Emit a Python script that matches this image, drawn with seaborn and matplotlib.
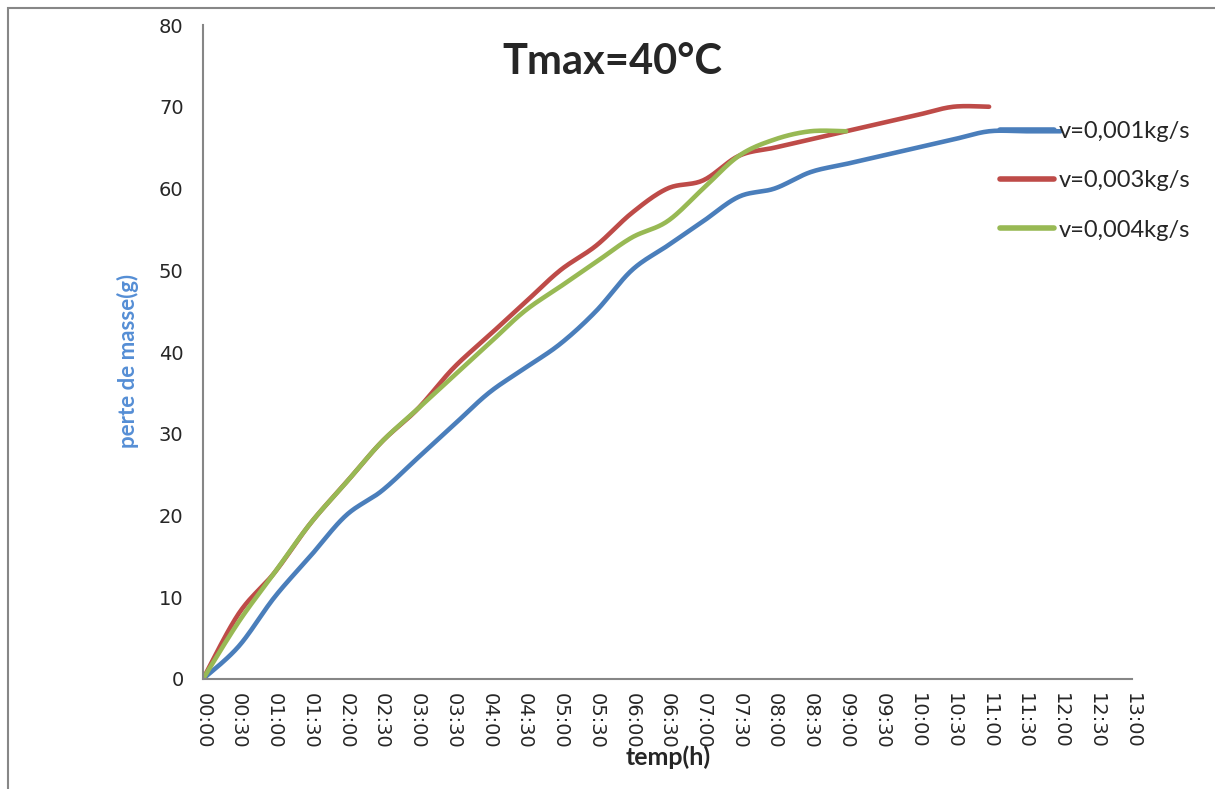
import numpy as np
import pandas as pd
import matplotlib
matplotlib.use("Agg")
import matplotlib.pyplot as plt
import seaborn as sns
from matplotlib.patches import Rectangle

# ---- data ----
time_labels = ["00:00", "00:30", "01:00", "01:30", "02:00", "02:30", "03:00", "03:30",
               "04:00", "04:30", "05:00", "05:30", "06:00", "06:30", "07:00", "07:30",
               "08:00", "08:30", "09:00", "09:30", "10:00", "10:30", "11:00", "11:30",
               "12:00", "12:30", "13:00"]
v001 = [0, 4, 10, 15, 20, 23, 27, 31, 35, 38, 41, 45, 50, 53, 56, 59, 60, 62, 63, 64,
        65, 66, 67, 67, 67]
v003 = [0, 8, 13, 19, 24, 29, 33, 38, 42, 46, 50, 53, 57, 60, 61, 64, 65, 66, 67, 68,
        69, 70, 70]
v004 = [0, 7, 13, 19, 24, 29, 33, 37, 41, 45, 48, 51, 54, 56, 60, 64, 66, 67, 67]
series_names = ["v=0,001kg/s", "v=0,003kg/s", "v=0,004kg/s"]
colors = ["#4A7EBB", "#BE4B48", "#98B954"]


def smooth(y, n=20):
    """Excel-like smoothed line (Catmull-Rom) through the points."""
    y = np.asarray(y, float)
    x = np.arange(len(y), dtype=float)
    P = np.column_stack([x, y])
    out = [P[0]]
    for i in range(len(P) - 1):
        p0 = P[i - 1] if i > 0 else P[i]
        p1, p2 = P[i], P[i + 1]
        p3 = P[i + 2] if i + 2 < len(P) else P[i + 1]
        c1 = p1 + (p2 - p0) / 6.0
        c2 = p2 - (p3 - p1) / 6.0
        t = np.linspace(0, 1, n + 1)[1:, None]
        pts = ((1 - t) ** 3) * p1 + 3 * ((1 - t) ** 2) * t * c1 + 3 * (1 - t) * t ** 2 * c2 + t ** 3 * p2
        out.extend(pts)
    out = np.array(out)
    return out[:, 0], out[:, 1]


sns.set_style("white")
plt.rcParams["font.family"] = ["DejaVu Sans"]

fig = plt.figure(figsize=(12.15, 7.89), dpi=100)
ax = fig.add_axes([203 / 1215, 110 / 789, (1132 - 203) / 1215, (679 - 25) / 789])

frames = []
for name, vals in zip(series_names, [v001, v003, v004]):
    xs, ys = smooth(vals)
    frames.append(pd.DataFrame({"x": xs, "y": ys, "serie": name}))
df = pd.concat(frames, ignore_index=True)

sns.lineplot(data=df, x="x", y="y", hue="serie", palette=colors, sort=False,
             estimator=None, linewidth=3.3, ax=ax, legend=True,
             solid_capstyle="round")

ax.set_xlim(0, 26)
ax.set_ylim(0, 80)
ax.set_xticks(range(len(time_labels)))
ax.set_xticklabels(time_labels, rotation=-90, fontsize=14)
ax.set_yticks(range(0, 81, 10))
ax.tick_params(axis="y", labelsize=14, length=6, color="#868686", width=1.2, pad=8)
ax.tick_params(axis="x", length=6, color="#868686", width=1.2, pad=4)
for s in ["top", "right"]:
    ax.spines[s].set_visible(False)
for s in ["left", "bottom"]:
    ax.spines[s].set_color("#868686")
    ax.spines[s].set_linewidth(1.5)
ax.set_xlabel("")
ax.set_ylabel("")

fig.text(668 / 1215, 1 - 757 / 789, "temp(h)", ha="center", va="center",
         fontsize=18, fontweight="bold", family="Lato")
fig.text(128 / 1215, 1 - 361 / 789, "perte de masse(g)", ha="center", va="center",
         rotation=90, fontsize=16, fontweight="bold", color="#558ED5", family="Lato")
fig.text(612 / 1215, 1 - 62 / 789, "Tmax=40°C", ha="center", va="center",
         fontsize=30, fontweight="bold", family="Lato")

leg = ax.legend(loc="upper left", bbox_to_anchor=(1000 / 1215, 1 - 121 / 789),
                bbox_transform=fig.transFigure, frameon=False, borderpad=0,
                borderaxespad=0, handlelength=2.3, handletextpad=0.2,
                labelspacing=1.2, prop={"family": "Lato", "size": 17})
for h in leg.legend_handles:
    h.set_linewidth(4)
    h.set_solid_capstyle("round")

fig.patches.append(Rectangle((8 / 1215, -0.1), 1.2, 1 - 8 / 789 + 0.1,
                             transform=fig.transFigure, fill=False,
                             edgecolor="#878787", linewidth=1.5))

fig.savefig("out.png", dpi=100)
